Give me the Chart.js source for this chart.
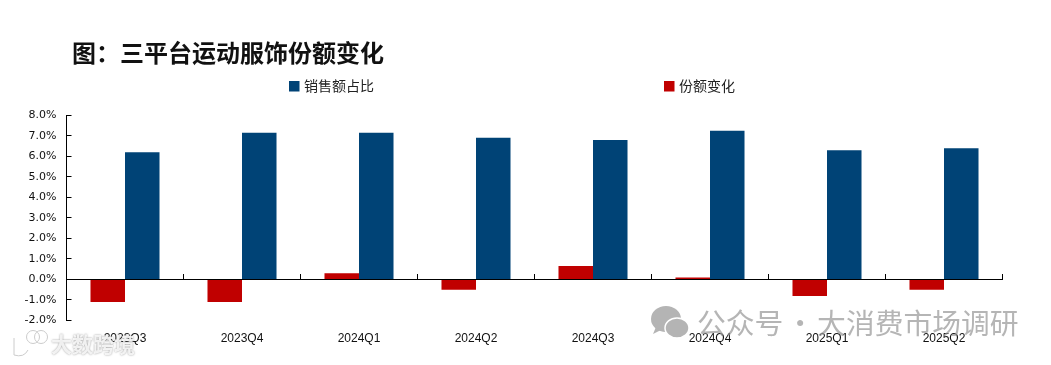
<!DOCTYPE html>
<html><head><meta charset="utf-8">
<script src="https://cdn.jsdelivr.net/npm/chart.js@4/dist/chart.umd.min.js"></script>
<style>
html,body{margin:0;padding:0;background:#fff;overflow:hidden}
#wrap{position:relative;width:1051px;height:365px}
canvas{display:block}
.wm{position:absolute;white-space:nowrap;font-family:"Noto Sans CJK SC",sans-serif}
#wm1{left:697px;top:302px;font-size:28.8px;line-height:40px;color:rgba(150,150,150,.7);word-spacing:-4px}
#wm2{left:51px;top:328px;font-size:21px;line-height:30px;font-weight:700;color:rgba(255,255,255,.85);text-shadow:0 0 2px rgba(120,120,120,.8)}
svg{position:absolute;left:0;top:0}
</style></head><body>
<div id="wrap">
<canvas id="c" width="1051" height="365"></canvas>
<svg width="1051" height="365" aria-hidden="true">
 <g fill="#b4b4b4"><ellipse cx="666" cy="319" rx="15" ry="13"/><path d="M656 327l-3 7 8-4z"/></g>
 <g fill="#b4b4b4" stroke="#fff" stroke-width="1.5"><ellipse cx="677" cy="328" rx="12" ry="10"/></g>
 <g fill="none" stroke="#fff" stroke-width="3" opacity=".9"><path d="M16 340v14q8 3 11-5"/><circle cx="33" cy="337" r="5"/><circle cx="41" cy="337" r="5"/></g>
 <g fill="none" stroke="#aaa" stroke-width="1" opacity=".6"><path d="M14 338v17q10 3 14-5"/><circle cx="33" cy="337" r="6.5"/><circle cx="41" cy="337" r="6.5"/></g>
</svg>
<div class="wm" id="wm1">公众号 · 大消费市场调研</div>
<div class="wm" id="wm2">大数跨境</div>
</div>
<script>
const titleText = '图：三平台运动服饰份额变化';
const categories = ['2023Q3','2023Q4','2024Q1','2024Q2','2024Q3','2024Q4','2025Q1','2025Q2'];
const shareChange = [-1.1,-1.1,0.3,-0.5,0.65,0.1,-0.8,-0.5];
const salesShare = [6.2,7.15,7.15,6.9,6.8,7.25,6.3,6.4];
const shareChangeName = '份额变化';
const salesShareName = '销售额占比';
const latin = '"Liberation Sans","Noto Sans CJK SC",sans-serif';
const cjk = '"Noto Sans CJK SC",sans-serif';

const layoutTweaks = {
  id:'layoutTweaks',
  afterLayout(chart){ chart.titleBlock.left = 72; },
  afterDraw(chart){
    const ctx = chart.ctx;
    const spots = [[1,289],[0,664]];
    ctx.save();
    ctx.font = '14px '+cjk;
    ctx.textBaseline = 'middle';
    ctx.textAlign = 'left';
    spots.forEach(([i,x])=>{
      const ds = chart.data.datasets[i];
      ctx.fillStyle = ds.backgroundColor;
      ctx.fillRect(x,81,10.5,10.5);
      ctx.fillStyle = '#222';
      ctx.fillText(ds.label,x+15,85.5);
    });
    ctx.restore();
  }
};

new Chart(document.getElementById('c'),{
  type:'bar',
  data:{labels:categories,datasets:[
    {label:shareChangeName,data:shareChange,backgroundColor:'#C00000',categoryPercentage:0.59,barPercentage:1},
    {label:salesShareName,data:salesShare,backgroundColor:'#004376',categoryPercentage:0.59,barPercentage:1}
  ]},
  options:{
    responsive:false,animation:false,
    layout:{padding:{left:1.5,right:48.5,top:38,bottom:0}},
    plugins:{
      tooltip:{enabled:false},
      title:{display:true,text:titleText,align:'start',color:'#111',
        font:{family:cjk,size:24,weight:'bold',lineHeight:1.2},padding:{top:0,bottom:48.5}},
      legend:{display:false}
    },
    scales:{
      x:{type:'category',position:'bottom',offset:true,
        grid:{display:false,drawTicks:false},border:{display:false},
        ticks:{color:'#111',padding:11,maxRotation:0,autoSkip:false,font:{family:latin,size:12}},
        afterFit(s){s.height=44.5;}},
      x2:{type:'category',labels:categories,offset:true,position:{y:0},
        grid:{drawOnChartArea:false,drawTicks:true,tickLength:-6,offset:true,color:'#000'},
        border:{display:true,color:'#000',width:1},
        ticks:{display:false}},
      y:{min:-2,max:8,position:'left',
        grid:{drawOnChartArea:false,drawTicks:true,tickLength:-5,color:'#000'},
        border:{display:true,color:'#000',width:1},
        ticks:{stepSize:1,autoSkip:false,color:'#111',padding:15,font:{family:'"DejaVu Sans",sans-serif',size:11},callback:v=>v.toFixed(1)+'%'},
        afterFit(s){s.width=65;}}
    }
  },
  plugins:[layoutTweaks]
});
</script>
</body></html>
